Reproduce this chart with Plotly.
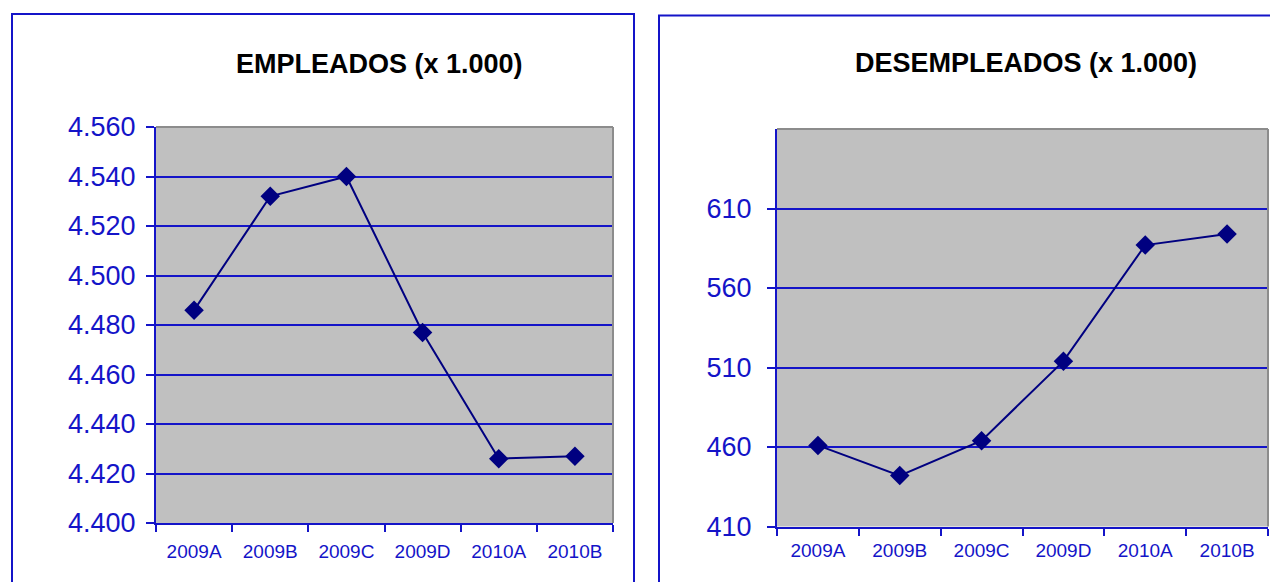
import plotly.graph_objects as go

W, H = 1278, 582

categories = ["2009A", "2009B", "2009C", "2009D", "2010A", "2010B"]
empleados = [4486, 4532, 4540, 4477, 4426, 4427]
desempleados = [461, 442, 464, 514, 587, 594]

emp_ticks = [4400, 4420, 4440, 4460, 4480, 4500, 4520, 4540, 4560]
emp_ticktext = ["4.400", "4.420", "4.440", "4.460", "4.480", "4.500", "4.520", "4.540", "4.560"]
des_ticks = [410, 460, 510, 560, 610]
des_ticktext = ["410", "460", "510", "560", "610"]

BLUE = "#1414C8"
NAVY = "#000080"
GRAY_BG = "#C0C0C0"
FONT = "Liberation Sans, Arial, sans-serif"
OFF = 8  # page body margin

def px(x):
    return (x - OFF) / W

def py(y):
    return 1 - (y - OFF) / H

fig = go.Figure()

for xa, ya, vals in (("x", "y", empleados), ("x2", "y2", desempleados)):
    fig.add_trace(go.Scatter(
        x=categories, y=vals, xaxis=xa, yaxis=ya,
        mode="lines+markers",
        line=dict(color=NAVY, width=2),
        marker=dict(symbol="diamond", size=15, color=NAVY),
        showlegend=False, hoverinfo="skip",
    ))

common_x = dict(
    type="category", tickson="boundaries", ticks="outside", ticklen=7, tickwidth=2,
    tickcolor=BLUE, showline=True, linecolor=BLUE, linewidth=2, showgrid=False,
    tickfont=dict(family=FONT, size=19, color=BLUE), zeroline=False,
    automargin=False,
)
common_y = dict(
    ticks="outside", ticklen=8, tickwidth=2, tickcolor=BLUE,
    showline=True, linecolor=BLUE, linewidth=2,
    showgrid=True, gridcolor=BLUE, gridwidth=2, zeroline=False,
    tickfont=dict(family=FONT, size=27, color=BLUE),
    automargin=False,
)

L = (156, 613, 127, 523)
R = (777, 1268, 129, 526.5)

fig.update_layout(
    template="none",
    width=W, height=H,
    margin=dict(l=0, r=0, t=0, b=0, autoexpand=False),
    paper_bgcolor="white",
    plot_bgcolor=GRAY_BG,
    xaxis=dict(domain=[px(L[0]), px(L[1])], anchor="y", range=[-0.5, 5.5],
               ticklabelstandoff=10, **common_x),
    yaxis=dict(domain=[py(L[3]), py(L[2])], anchor="x", range=[4400, 4560],
               tickvals=emp_ticks, ticktext=emp_ticktext, ticklabelstandoff=5, **common_y),
    xaxis2=dict(domain=[px(R[0]), px(R[1])], anchor="y2", range=[-0.5, 5.5],
                ticklabelstandoff=6, **common_x),
    yaxis2=dict(domain=[py(R[3]), py(R[2])], anchor="x2", range=[410, 660],
                tickvals=des_ticks, ticktext=des_ticktext, ticklabelstandoff=10, **common_y),
)

shapes = []
# panel borders
shapes.append(dict(type="rect", xref="paper", yref="paper",
                   x0=px(12), x1=px(634), y0=py(640), y1=py(14),
                   line=dict(color=BLUE, width=2), layer="below"))
shapes.append(dict(type="rect", xref="paper", yref="paper",
                   x0=px(659), x1=px(1320), y0=py(640), y1=py(15.5),
                   line=dict(color=BLUE, width=2), layer="below"))
# gray top/right edges of plot areas
for (x0, x1, y0, y1) in (L, R):
    shapes.append(dict(type="line", xref="paper", yref="paper",
                       x0=px(x0), x1=px(x1), y0=py(y0), y1=py(y0),
                       line=dict(color="#8C8C8C", width=2)))
    shapes.append(dict(type="line", xref="paper", yref="paper",
                       x0=px(x1), x1=px(x1), y0=py(y0), y1=py(y1),
                       line=dict(color="#8C8C8C", width=2)))
fig.update_layout(shapes=shapes)

fig.add_annotation(text="<b>EMPLEADOS (x 1.000)</b>", xref="paper", yref="paper",
                   x=px(379), y=py(64), showarrow=False,
                   font=dict(family=FONT, size=27, color="black"),
                   xanchor="center", yanchor="middle")
fig.add_annotation(text="<b>DESEMPLEADOS (x 1.000)</b>", xref="paper", yref="paper",
                   x=px(1026), y=py(63), showarrow=False,
                   font=dict(family=FONT, size=27, color="black"),
                   xanchor="center", yanchor="middle")

fig.write_html("out.html", config={"displayModeBar": False})
